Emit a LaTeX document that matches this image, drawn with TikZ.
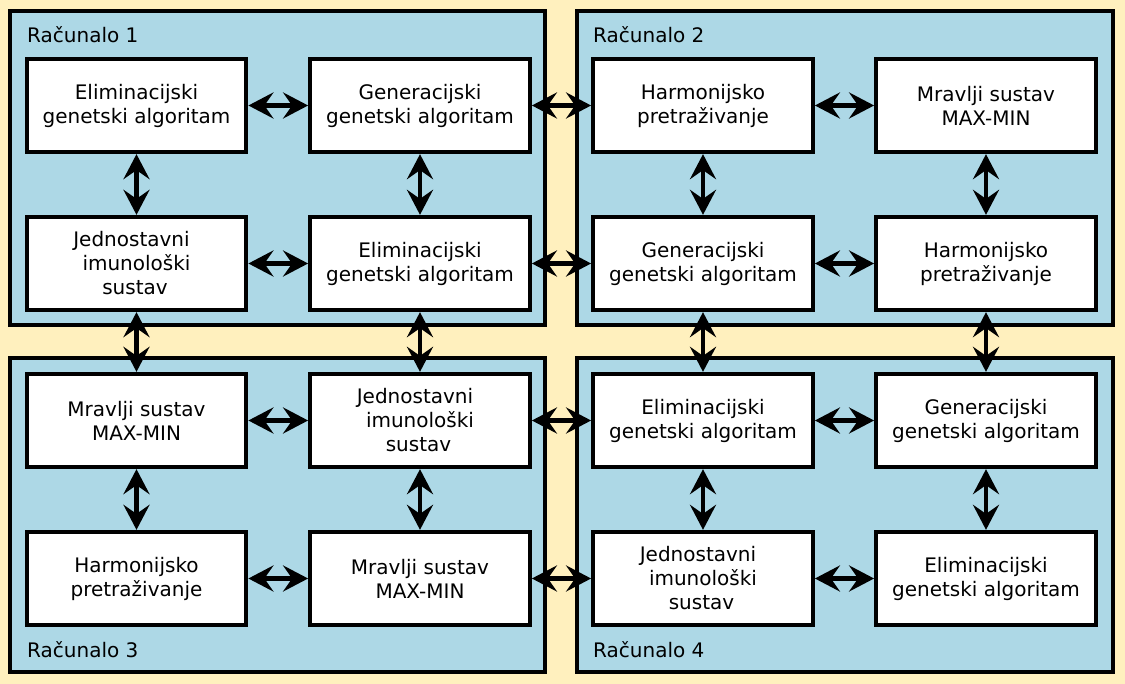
\documentclass[tikz,border=0pt]{standalone}
\usepackage{fontspec}
\setmainfont{DejaVu Sans}
\usetikzlibrary{arrows.meta}
\definecolor{bgyellow}{HTML}{FFF0BE}
\definecolor{panelblue}{HTML}{ADD8E6}
\newcommand{\jis}{Jednostavni\hspace*{10pt}\\imunološki\hspace*{3pt}\\sustav\hspace*{3pt}}
\begin{document}
\begin{tikzpicture}[x=1pt,y=-1pt,
  panel/.style={draw=black,line width=4.3pt,fill=panelblue,inner sep=0pt,outer sep=0pt},
  algbox/.style={draw=black,line width=4.3pt,fill=white,minimum width=219.5pt,minimum height=93pt,inner sep=0pt,align=center,font=\fontsize{20}{24}\selectfont},
  plabel/.style={anchor=base west,inner sep=0pt,font=\fontsize{20}{24}\selectfont},
  link/.style={line width=4.3pt,{Stealth[length=25pt,width=26pt,inset=9pt]}-{Stealth[length=25pt,width=26pt,inset=9pt]}}]
\fill[bgyellow] (0,0) rectangle (1125,684);
\useasboundingbox (0,0) rectangle (1125,684);
% panels
\node[panel,minimum width=535pt,minimum height=314pt] (p1) at (277.5,168) {};
\node[panel,minimum width=536pt,minimum height=314pt] (p2) at (845,168) {};
\node[panel,minimum width=535pt,minimum height=314pt] (p3) at (277.5,515) {};
\node[panel,minimum width=536pt,minimum height=314pt] (p4) at (845,515) {};
\node[plabel] (l1) at (27,43) {Računalo 1};
\node[plabel] (l2) at (593,43) {Računalo 2};
\node[plabel] (l3) at (27,657) {Računalo 3};
\node[plabel] (l4) at (593,657) {Računalo 4};
% boxes
\node[algbox] (b11) at (136.5,105.5) {Eliminacijski\\genetski algoritam};
\node[algbox] (b12) at (420,105.5) {Generacijski\\genetski algoritam};
\node[algbox] (b13) at (703,105.5) {Harmonijsko\\pretraživanje};
\node[algbox] (b14) at (986,105.5) {Mravlji sustav\\MAX-MIN};
\node[algbox] (b21) at (136.5,263.5) {\jis};
\node[algbox] (b22) at (420,263.5) {Eliminacijski\\genetski algoritam};
\node[algbox] (b23) at (703,263.5) {Generacijski\\genetski algoritam};
\node[algbox] (b24) at (986,263.5) {Harmonijsko\\pretraživanje};
\node[algbox] (b31) at (136.5,420.5) {Mravlji sustav\\MAX-MIN};
\node[algbox] (b32) at (420,420.5) {\jis};
\node[algbox] (b33) at (703,420.5) {Eliminacijski\\genetski algoritam};
\node[algbox] (b34) at (986,420.5) {Generacijski\\genetski algoritam};
\node[algbox] (b41) at (136.5,578.5) {Harmonijsko\\pretraživanje};
\node[algbox] (b42) at (420,578.5) {Mravlji sustav\\MAX-MIN};
\node[algbox] (b43) at (703,578.5) {\jis};
\node[algbox] (b44) at (986,578.5) {Eliminacijski\\genetski algoritam};
% horizontal links
\foreach \r in {1,2,3,4}{
  \draw[link] (b\r1.east) -- (b\r2.west);
  \draw[link] (b\r2.east) -- (b\r3.west);
  \draw[link] (b\r3.east) -- (b\r4.west);
}
% vertical links
\foreach \c in {1,2,3,4}{
  \draw[link] (b1\c.south) -- (b2\c.north);
  \draw[link] (b2\c.south) -- (b3\c.north);
  \draw[link] (b3\c.south) -- (b4\c.north);
}
\end{tikzpicture}
\end{document}
